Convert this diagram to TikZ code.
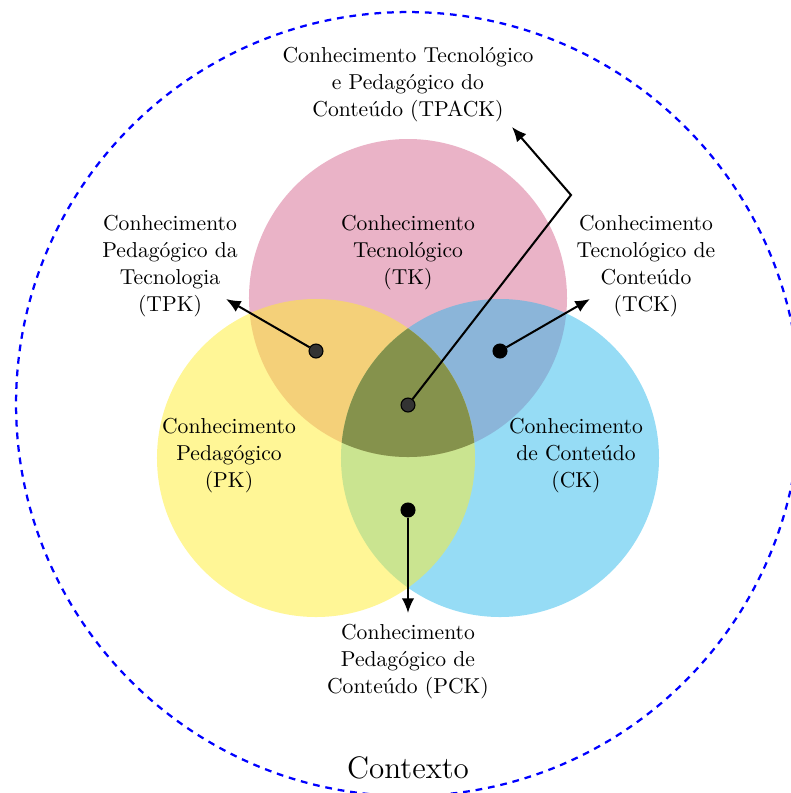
\documentclass[tikz,border=0pt]{standalone}
\usepackage{fontspec}
\usetikzlibrary{arrows.meta}
\definecolor{pinkbase}{RGB}{213,103,143}
\definecolor{yellowbase}{RGB}{255,237,45}
\definecolor{bluebase}{RGB}{45,185,235}
\definecolor{olivec}{RGB}{133,146,76}
\tikzset{
  lbl/.style={align=center, font=\fontsize{9.6pt}{12pt}\selectfont, inner sep=0pt},
  dotnode/.style={circle, draw=black, line width=0.5pt, fill=#1, minimum size=6.2pt, inner sep=0pt},
  arr/.style={-{Latex[length=6.5pt,width=5.5pt]}, line width=0.9pt, black},
  ctx/.style={blue, line width=1pt, dash pattern=on 3pt off 2.6pt}
}
\begin{document}
\begin{tikzpicture}[x=0.44444pt,y=-0.44444pt]
\useasboundingbox (0,0) rectangle (791,793);
\clip (0,0) rectangle (791,793);
% context
\draw[ctx] (408,404) circle[radius=174.2pt];
% circles
\fill[pinkbase, opacity=0.5] (408,298) circle[radius=70.67pt];
\fill[bluebase, opacity=0.5] (500,458) circle[radius=70.67pt];
\fill[yellowbase, opacity=0.5] (316,458) circle[radius=70.67pt];
\begin{scope}
  \clip (316,458) circle[radius=70.67pt];
  \clip (500,458) circle[radius=70.67pt];
  \fill[olivec] (408,298) circle[radius=70.67pt];
\end{scope}
% labels
\node[lbl] (tpack) at (408,85) {Conhecimento Tecnológico\\e Pedagógico do\\Conteúdo (TPACK)};
\node[lbl] (tk) at (408,253) {Conhecimento\\Tecnológico\\(TK)};
\node[lbl] (tpk) at (170,266) {Conhecimento\\Pedagógico da\\Tecnologia\\(TPK)};
\node[lbl] (tck) at (646,266) {Conhecimento\\Tecnológico de\\Conteúdo\\(TCK)};
\node[lbl] (pk) at (229,456) {Conhecimento\\Pedagógico\\(PK)};
\node[lbl] (ck) at (576,456) {Conhecimento\\de Conteúdo\\(CK)};
\node[lbl] (pck) at (408,662) {Conhecimento\\Pedagógico de\\Conteúdo (PCK)};
\node[lbl, font=\fontsize{13.8pt}{16pt}\selectfont] (ctxl) at (408,768) {Contexto};
% dots
\node[dotnode=black!80] (d1) at (316,351) {};
\node[dotnode=black] (d2) at (500,351) {};
\node[dotnode=black!80] (d3) at (408,405) {};
\node[dotnode=black] (d4) at (408,510) {};
\coordinate (e1) at (226,299);
\coordinate (e2) at (590,299);
\coordinate (e4) at (408,613);
\coordinate (bend) at (571,195);
\coordinate (e3) at (512,127);
\draw[arr] (d1) -- (e1);
\draw[arr] (d2) -- (e2);
\draw[arr] (d4) -- (e4);
\draw[arr, line join=miter] (d3) -- (bend) -- (e3);
\end{tikzpicture}
\end{document}
